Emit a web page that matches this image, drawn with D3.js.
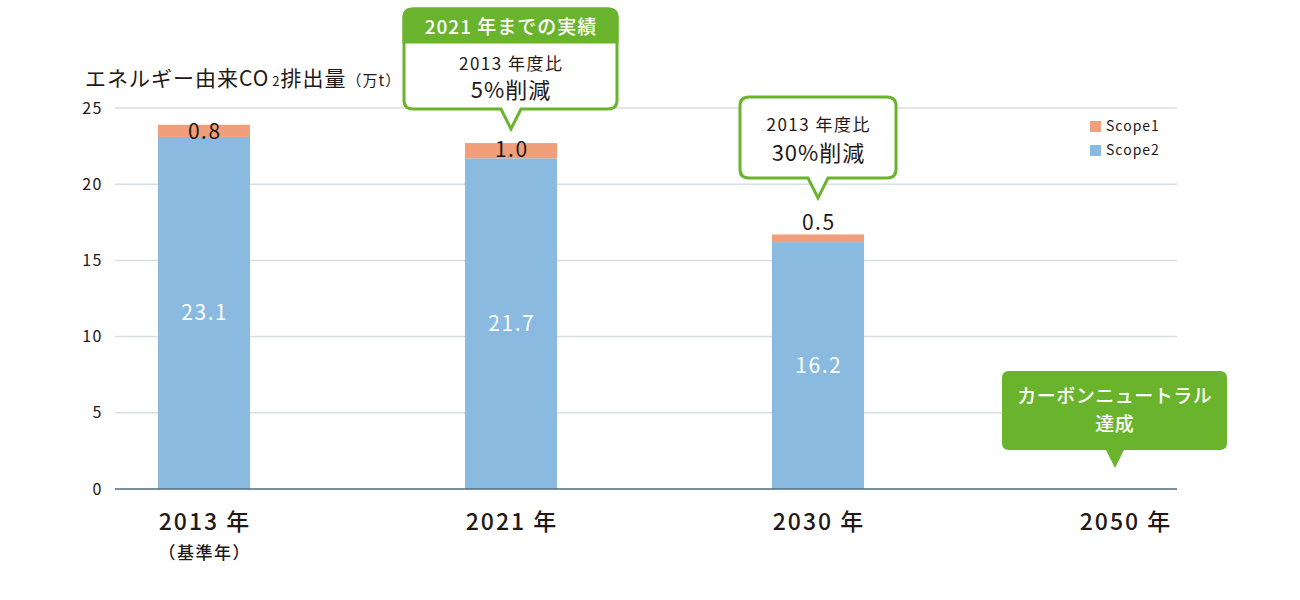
<!DOCTYPE html>
<html lang="ja">
<head>
<meta charset="utf-8">
<script src="https://cdn.jsdelivr.net/npm/d3@7"></script>
<style>
  html, body { margin: 0; padding: 0; background: #fff; }
  svg { display: block; font-family: "Noto Sans CJK JP", "Noto Sans", sans-serif; }
</style>
</head>
<body>
<div id="chart"></div>
<script>
const YEARS = ['2013', '2021', '2030', '2050'];
const YEAR_LABELS = ['2013 年', '2021 年', '2030 年', '2050 年'];
const SCOPE2 = [23.1, 21.7, 16.2, 0];
const SCOPE1 = [0.8, 1.0, 0.5, 0];
const Y_TICKS = [0, 5, 10, 15, 20, 25];
const SERIES = ['Scope1', 'Scope2'];

const COLORS = { Scope1: '#f19f7b', Scope2: '#8abadf' };
const GREEN = '#6ab42d';

const W = 1300, H = 600;
const plot = { left: 115, right: 1177, top: 108, bottom: 489 };

const svg = d3.select('#chart').append('svg')
  .attr('width', W).attr('height', H);

const x = d3.scaleBand()
  .domain(YEARS)
  .range([50.5, 1278.5])
  .paddingInner(0.7)
  .paddingOuter(0.35);

const y = d3.scaleLinear()
  .domain([0, 25])
  .range([plot.bottom, plot.top]);

// centred text with letter spacing (shift by half the trailing gap)
function ctext(g, cx, yy, str, size, ls, color, weight) {
  return g.append('text')
    .attr('x', cx + ls / 2).attr('y', yy)
    .attr('text-anchor', 'middle')
    .style('font-size', size + 'px')
    .style('letter-spacing', ls + 'px')
    .style('font-weight', weight || 400)
    .style('fill', color)
    .text(str);
}

// gridlines
svg.append('g')
  .selectAll('line')
  .data(Y_TICKS.filter(t => t > 0))
  .join('line')
  .attr('x1', plot.left).attr('x2', plot.right)
  .attr('y1', d => y(d)).attr('y2', d => y(d))
  .attr('stroke', '#d6dee3').attr('stroke-width', 1.5);

// y tick labels
svg.append('g')
  .selectAll('text')
  .data(Y_TICKS)
  .join('text')
  .attr('x', 103)
  .attr('y', d => y(d))
  .attr('dy', '0.35em')
  .attr('text-anchor', 'end')
  .style('font-size', '16px')
  .style('letter-spacing', '1.5px')
  .style('fill', '#231815')
  .text(d => d);

// stacked bars
const rows = YEARS.map((yr, i) => ({ year: yr, Scope1: SCOPE1[i], Scope2: SCOPE2[i] }));
const stack = d3.stack().keys(['Scope2', 'Scope1'])(rows);

svg.append('g')
  .selectAll('g')
  .data(stack)
  .join('g')
  .attr('fill', d => COLORS[d.key])
  .selectAll('rect')
  .data(d => d.filter(s => s[1] - s[0] > 0))
  .join('rect')
  .attr('x', d => x(d.data.year))
  .attr('width', x.bandwidth())
  .attr('y', d => y(d[1]))
  .attr('height', d => y(d[0]) - y(d[1]));

// baseline
svg.append('line')
  .attr('x1', plot.left).attr('x2', plot.right)
  .attr('y1', y(0)).attr('y2', y(0))
  .attr('stroke', '#4f6b7c').attr('stroke-width', 1.5);

// Scope2 value labels (inside)
const vl = svg.append('g');
rows.filter(d => d.Scope2 > 0).forEach(d => {
  ctext(vl, x(d.year) + x.bandwidth() / 2, y(d.Scope2 / 2) + 7, d.Scope2.toFixed(1), 21, 1.5, '#fff');
});

// Scope1 value labels (on top)
rows.filter(d => d.Scope1 > 0).forEach(d => {
  const top = y(d.Scope1 + d.Scope2);
  const yy = d.Scope1 >= 0.8 ? top + 14 : top - 4;
  ctext(vl, x(d.year) + x.bandwidth() / 2, yy, d.Scope1.toFixed(1), 21, 1.5, '#231815');
});

// x labels
const xl = svg.append('g');
YEARS.forEach((d, i) => {
  ctext(xl, x(d) + x.bandwidth() / 2, 530, YEAR_LABELS[i], 23, 2, '#231815', 500);
});
ctext(xl, x('2013') + x.bandwidth() / 2, 559, '（基準年）', 17, 1.5, '#231815', 500);

// title
const title = svg.append('text')
  .attr('x', 85).attr('y', 86)
  .style('font-size', '21px')
  .style('letter-spacing', '1px')
  .style('fill', '#231815');
title.append('tspan').text('エネルギー由来CO');
title.append('tspan').style('font-size', '13px').attr('dx', 3).text('2');
title.append('tspan').text('排出量');
title.append('tspan').style('font-size', '15px').text('（万t）');

// legend
const legend = svg.append('g').attr('transform', 'translate(1090,121)');
SERIES.forEach((s, i) => {
  const g = legend.append('g').attr('transform', `translate(0,${i * 24})`);
  g.append('rect').attr('width', 11).attr('height', 11).attr('fill', COLORS[s]);
  g.append('text').attr('x', 16).attr('y', 10)
    .style('font-size', '14px').style('letter-spacing', '1px')
    .style('fill', '#231815').text(s);
});

// callout shape: rounded box with a tail pointing down
function calloutPath(x0, y0, w, h, r, tx, tipY, tw) {
  const x1 = x0 + w, y1 = y0 + h;
  return `M${x0 + r},${y0}H${x1 - r}Q${x1},${y0} ${x1},${y0 + r}` +
    `V${y1 - r}Q${x1},${y1} ${x1 - r},${y1}` +
    `H${tx + tw}L${tx},${tipY}L${tx - tw},${y1}` +
    `H${x0 + r}Q${x0},${y1} ${x0},${y1 - r}V${y0 + r}Q${x0},${y0} ${x0 + r},${y0}Z`;
}

// 2021 callout
{
  const cx = x('2021') + x.bandwidth() / 2;
  const g = svg.append('g');
  g.append('path')
    .attr('d', calloutPath(404, 9, 213, 100, 9, cx, 129, 10))
    .attr('fill', '#fff').attr('stroke', GREEN).attr('stroke-width', 3);
  g.append('path')
    .attr('d', `M404,42V18Q404,9 413,9H608Q617,9 617,18V42Z`)
    .attr('fill', GREEN).attr('stroke', GREEN).attr('stroke-width', 3);
  ctext(g, 510.5, 34, '2021 年までの実績', 19, 1, '#fff', 500);
  ctext(g, 510.5, 70, '2013 年度比', 17, 1.5, '#231815');
  ctext(g, 510.5, 98, '5%削減', 22, 1, '#231815');
}

// 2030 callout
{
  const cx = x('2030') + x.bandwidth() / 2;
  const g = svg.append('g');
  g.append('path')
    .attr('d', calloutPath(740, 97, 156, 81, 9, cx, 198, 10))
    .attr('fill', '#fff').attr('stroke', GREEN).attr('stroke-width', 3);
  ctext(g, 818, 131, '2013 年度比', 17, 1.5, '#231815');
  ctext(g, 818, 161, '30%削減', 22, 1, '#231815');
}

// 2050 callout
{
  const cx = x('2050') + x.bandwidth() / 2 - 10;
  const g = svg.append('g');
  g.append('path')
    .attr('d', calloutPath(1002, 371, 225, 79, 7, cx, 468, 9))
    .attr('fill', GREEN);
  ctext(g, 1114.5, 403, 'カーボンニュートラル', 19, 0.5, '#fff', 500);
  ctext(g, 1114.5, 431, '達成', 19, 0.5, '#fff', 500);
}
</script>
</body>
</html>
